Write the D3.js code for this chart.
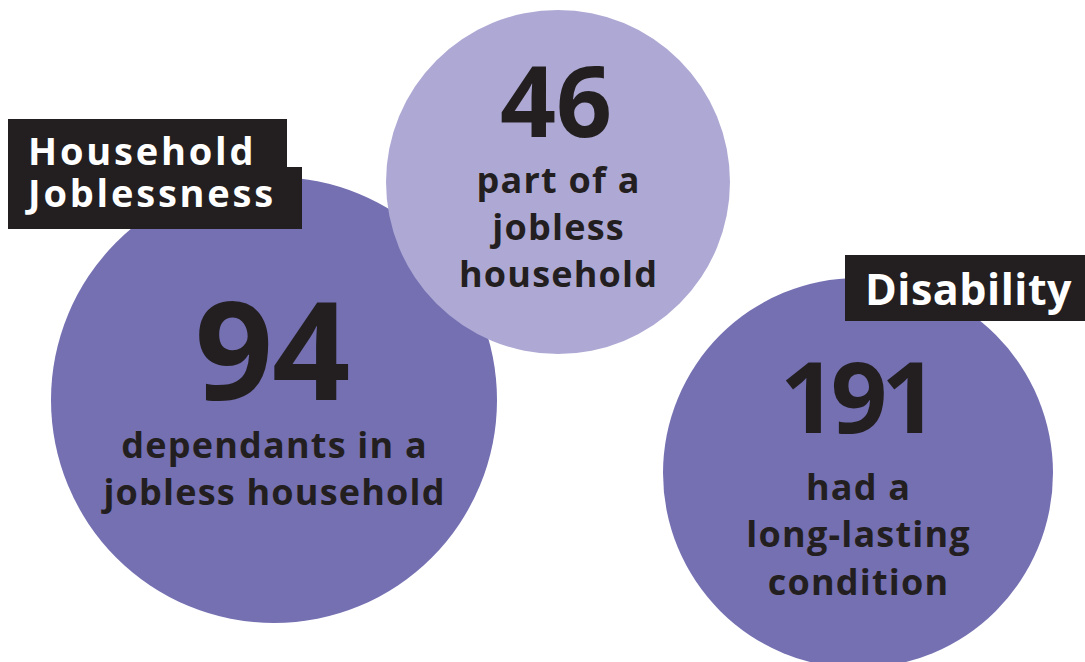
<!DOCTYPE html>
<html>
<head>
<meta charset="utf-8">
<script src="https://cdn.jsdelivr.net/npm/d3@7"></script>
<style>
  html, body { margin: 0; padding: 0; background: #ffffff; }
  svg { display: block; }
  text { font-family: "Open Sans", "Noto Sans", sans-serif; font-weight: 700; }
</style>
</head>
<body>
<svg id="chart" width="1085" height="662"></svg>
<script>
// ---- data ----
const values = [94, 46, 191];
const captions = [
  ["dependants in a", "jobless household"],
  ["part of a", "jobless", "household"],
  ["had a", "long-lasting", "condition"]
];
const categories = ["Household Joblessness", "Household Joblessness", "Disability"];
const headerTitles = ["Household Joblessness", "Disability"];
const headerLines = [["Household", "Joblessness"], ["Disability"]];

// ---- layout (normalised) ----
const W = 1085, H = 662;
const circleLayout = [
  { cx: 274 / W, cy: 400 / H, r: 223 / W, fill: "#7470b2", numSize: 137, numBase: 400, numLs: -1, capBase: [458, 505] },
  { cx: 558 / W, cy: 182 / H, r: 172 / W, fill: "#aea9d4", numSize: 98,  numBase: 137, numLs: 0, capBase: [193, 240, 287] },
  { cx: 858 / W, cy: 473 / H, r: 195 / W, fill: "#7470b2", numSize: 99,  numBase: 433, numLs: -6, capBase: [500, 547, 595] }
];
const x = d3.scaleLinear().domain([0, 1]).range([0, W]);
const y = d3.scaleLinear().domain([0, 1]).range([0, H]);
const rScale = d3.scaleLinear().domain([0, 1]).range([0, W]);
const ink = "#231f20";

const svg = d3.select("#chart");

const nodes = values.map((v, i) => ({ value: v, caption: captions[i], category: categories[i], ...circleLayout[i] }));

// circles (drawn in order: big, light on top, right)
svg.append("g").selectAll("circle")
  .data(nodes)
  .join("circle")
  .attr("cx", d => x(d.cx))
  .attr("cy", d => y(d.cy))
  .attr("r", d => rScale(d.r))
  .attr("fill", d => d.fill);

// header boxes
const headerLayout = [
  { rects: [[8, 119, 287, 168], [8, 167, 302, 229]], textX: 28, base: [165, 207], size: 38, ls: 2.8 },
  { rects: [[845, 255, 1085, 321]], textX: 865, base: [305], size: 43, ls: 0.5 }
];
const hdr = svg.append("g").selectAll("g")
  .data(headerTitles.map((t, i) => ({ title: t, lines: headerLines[i], ...headerLayout[i] })))
  .join("g");
hdr.each(function(d) {
  const g = d3.select(this);
  g.selectAll("rect").data(d.rects).join("rect")
    .attr("x", r => r[0]).attr("y", r => r[1])
    .attr("width", r => r[2] - r[0]).attr("height", r => r[3] - r[1])
    .attr("fill", ink);
  g.selectAll("text").data(d.lines).join("text")
    .attr("x", d.textX)
    .attr("y", (l, j) => d.base[j])
    .attr("fill", "#ffffff")
    .attr("font-size", d.size)
    .attr("letter-spacing", d.ls)
    .text(l => l);
});

// numbers and captions
const labels = svg.append("g").selectAll("g")
  .data(nodes)
  .join("g");
labels.append("text")
  .attr("x", d => x(d.cx) - 2)
  .attr("y", d => d.numBase)
  .attr("text-anchor", "middle")
  .attr("font-size", d => d.numSize)
  .attr("fill", ink)
  .attr("letter-spacing", d => d.numLs)
  .text(d => d3.format("d")(d.value));
labels.each(function(d) {
  d3.select(this).selectAll("text.cap")
    .data(d.caption)
    .join("text")
    .attr("class", "cap")
    .attr("x", x(d.cx) + 0.6)
    .attr("y", (l, j) => d.capBase[j])
    .attr("text-anchor", "middle")
    .attr("font-size", 36)
    .attr("letter-spacing", 1.2)
    .attr("fill", ink)
    .text(l => l);
});
</script>
</body>
</html>
